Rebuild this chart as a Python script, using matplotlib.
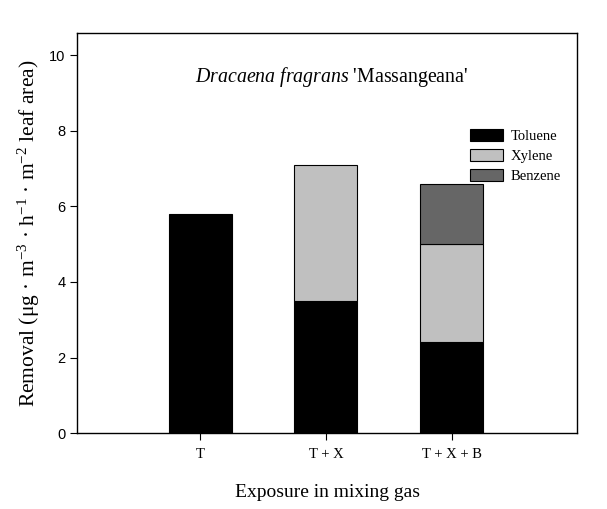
import numpy as np
import matplotlib
matplotlib.use("Agg")
import matplotlib.pyplot as plt
from matplotlib.patches import Patch

plt.rcParams['font.family'] = ['Liberation Serif', 'DejaVu Serif']
plt.rcParams['mathtext.fontset'] = 'custom'
plt.rcParams['mathtext.rm'] = 'Liberation Serif'
plt.rcParams['mathtext.it'] = 'Liberation Serif:italic'
plt.rcParams['mathtext.bf'] = 'Liberation Serif:bold'

# data
groups = ["T", "T + X", "T + X + B"]
toluene = [5.8, 3.5, 2.4]
xylene = [0.0, 3.6, 2.6]
benzene = [0.0, 0.0, 1.6]

col_tol = "#000000"
col_xyl = "#c0c0c0"
col_ben = "#666666"

fig = plt.figure(figsize=(6.07, 5.09), dpi=100)
ax = fig.add_axes([0.127, 0.149, 0.824, 0.786])

x = np.arange(len(groups))
w = 0.5
tol = np.array(toluene)
xyl = np.array(xylene)
ben = np.array(benzene)
ax.bar(x, tol, w, color=col_tol, edgecolor="black", linewidth=0.8)
ax.bar(x[1:], xyl[1:], w, bottom=tol[1:], color=col_xyl, edgecolor="black", linewidth=0.8)
ax.bar(x[2:], ben[2:], w, bottom=(tol + xyl)[2:], color=col_ben, edgecolor="black", linewidth=0.8)

ax.set_xlim(-0.98, 3.0)
ax.set_ylim(0, 10.58)
ax.set_yticks([0, 2, 4, 6, 8, 10])
ax.set_xticks(x)
ax.set_xticklabels(groups, fontsize=10.5)
for lab in ax.get_yticklabels():
    lab.set_fontfamily('Liberation Sans')
    lab.set_fontsize(10.5)
ax.tick_params(axis='both', direction='out', length=5, width=0.8, color='black')
ax.tick_params(axis='x', pad=6)
for s in ax.spines.values():
    s.set_linewidth(1.0)

ax.set_ylabel("Removal (μg · m$^{-3}$ · h$^{-1}$ · m$^{-2}$ leaf area)", fontsize=15.5, labelpad=5)
ax.set_xlabel("Exposure in mixing gas", fontsize=14, labelpad=16)

ax.text(0.236, 0.89, r"$\mathit{Dracaena\ fragrans}$ 'Massangeana'", transform=ax.transAxes,
        fontsize=14.3, ha='left', va='center')

handles = [Patch(facecolor=col_tol, edgecolor='black', linewidth=0.8, label="Toluene"),
           Patch(facecolor=col_xyl, edgecolor='black', linewidth=0.8, label="Xylene"),
           Patch(facecolor=col_ben, edgecolor='black', linewidth=0.8, label="Benzene")]
ax.legend(handles=handles, loc='upper left', bbox_to_anchor=(0.773, 0.775), frameon=False,
          fontsize=10.5, handlelength=2.3, handleheight=0.9, handletextpad=0.5,
          labelspacing=0.42, borderaxespad=0)

fig.savefig("out.png", dpi=100)
